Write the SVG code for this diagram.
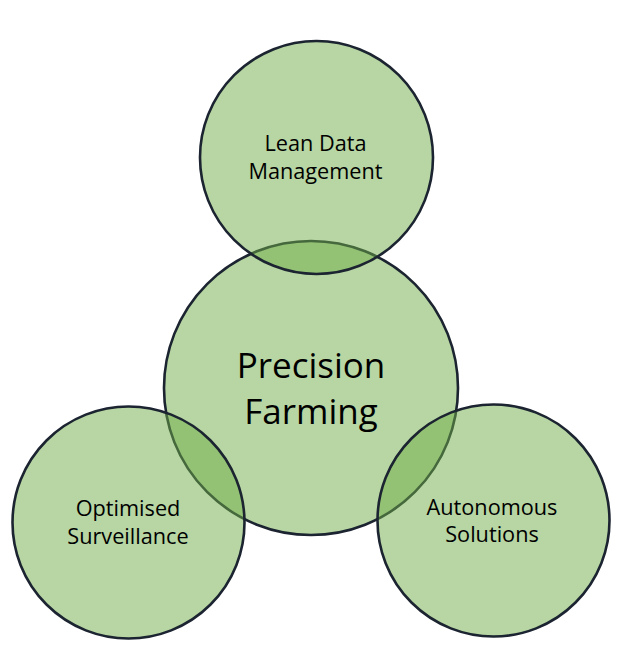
<svg xmlns="http://www.w3.org/2000/svg" width="623" height="652" viewBox="0 0 623 652">
  <style>
    .disc { fill: #70ad47; fill-opacity: 0.5; stroke: #1b2430; stroke-width: 2.6; }
    .label { font-family: "Open Sans", "Noto Sans", "Liberation Sans", sans-serif; fill: #000; text-anchor: middle; }
    .small { font-size: 21.7px; }
    .big { font-size: 35px; }
  </style>
  <rect width="623" height="652" fill="#ffffff"/>
  <!-- central concept is drawn first so the satellites overlay its rim -->
  <g id="precision-farming">
    <circle class="disc" cx="311" cy="388" r="147"/>
    <text class="label big" x="311" y="378">Precision</text>
    <text class="label big" x="311" y="424">Farming</text>
  </g>
  <g id="lean-data-management">
    <circle class="disc" cx="316.5" cy="157.5" r="116.5"/>
    <text class="label small" x="315.5" y="151">Lean Data</text>
    <text class="label small" x="315.5" y="178.5">Management</text>
  </g>
  <g id="optimised-surveillance">
    <circle class="disc" cx="128.5" cy="522.5" r="116"/>
    <text class="label small" x="128" y="516">Optimised</text>
    <text class="label small" x="128" y="543.5">Surveillance</text>
  </g>
  <g id="autonomous-solutions">
    <circle class="disc" cx="493.5" cy="520.5" r="116"/>
    <text class="label small" x="492" y="514.5">Autonomous</text>
    <text class="label small" x="492" y="542">Solutions</text>
  </g>
  <g id="connectors"/>
</svg>
